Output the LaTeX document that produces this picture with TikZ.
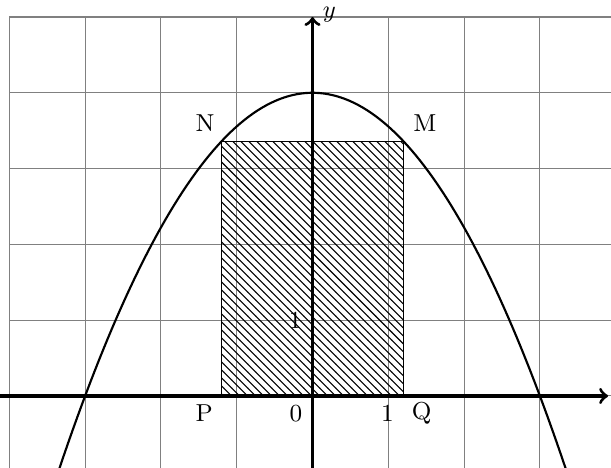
\documentclass[tikz,border=0pt]{standalone}
\usetikzlibrary{patterns}
\begin{document}
\begin{tikzpicture}[x=1cm,y=1cm,
  font=\fontsize{9.2}{11}\selectfont,
  gridline/.style={gray, line width=0.4pt},
  axisline/.style={line width=1.2pt, ->},
  curveline/.style={line width=0.8pt},
  lbl/.style={inner sep=0pt}]
\useasboundingbox (-4.123,-0.950) rectangle (3.938,5.224);
\clip (-4.123,-0.950) rectangle (3.938,5.224);
\draw[gridline] (-4,-1.2) grid (4.5,5);
\draw[line width=0.4pt, pattern=north west lines] (-1.2,0) rectangle (1.2,3.36);
\draw[curveline, domain=-3.45:3.45, samples=120] plot (\x, {4-4/9*\x*\x});
\draw[axisline] (-4.3,0) -- (3.9,0) node[right, xshift=-1.5pt, yshift=0.2cm] (xl) {$x$};
\draw[axisline] (0,-1.1) -- (0,5) node[right, yshift=1pt] (yl) {$y$};
\node[lbl] (N) at (-1.418,3.60) {N};
\node[lbl] (M) at (1.484,3.60) {M};
\node[lbl] (P) at (-1.43,-0.23) {P};
\node[lbl] (Q) at (1.44,-0.23) {Q};
\node[lbl] (O) at (-0.218,-0.23) {0};
\node[lbl] (one) at (0.987,-0.23) {1};
\node[lbl] (oney) at (-0.23,1.0) {1};
\end{tikzpicture}
\end{document}
